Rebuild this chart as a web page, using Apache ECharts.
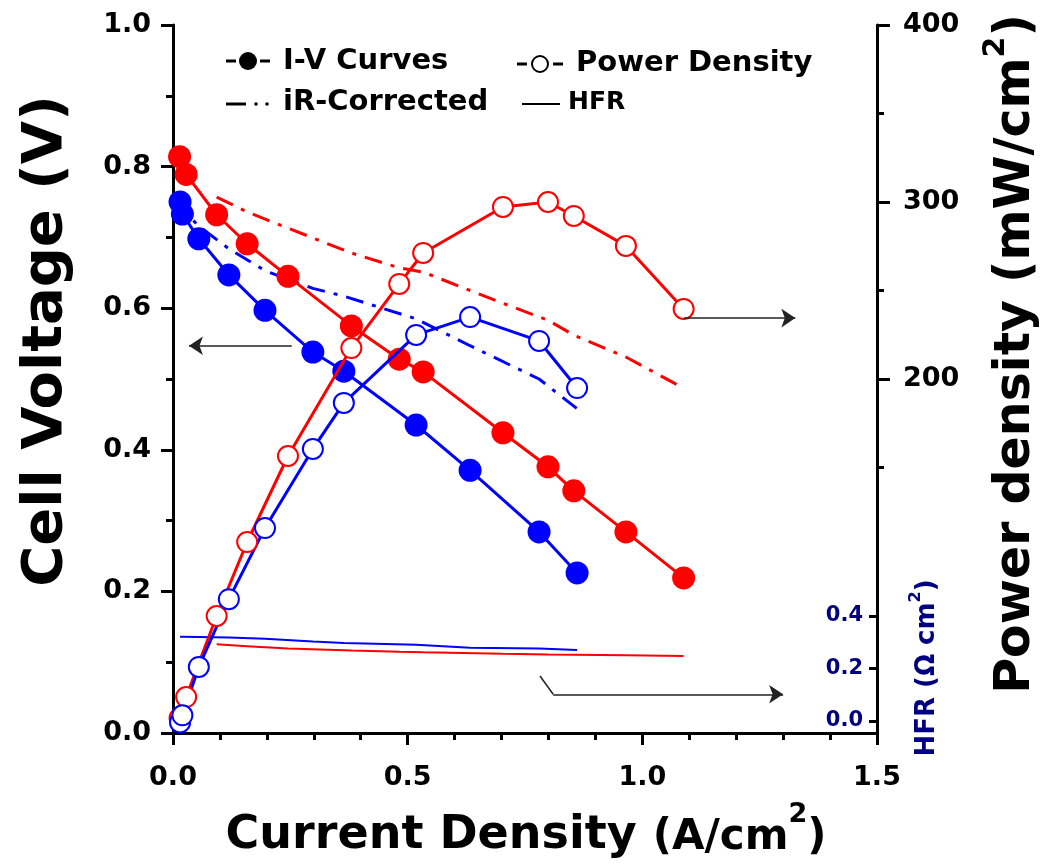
<!DOCTYPE html>
<html>
<head>
<meta charset="utf-8">
<script src="https://cdn.jsdelivr.net/npm/echarts@6/dist/echarts.min.js"></script>
<style>
html,body{margin:0;padding:0;background:#fff;}
#chart{width:1042px;height:866px;}
</style>
</head>
<body>
<div id="chart"></div>
<script>
// ---- data ----
const currentRed = [0.014, 0.028, 0.093, 0.158, 0.245, 0.380, 0.482, 0.533, 0.703, 0.799, 0.854, 0.965, 1.088];
const voltageRed = [0.814, 0.789, 0.732, 0.691, 0.645, 0.575, 0.528, 0.510, 0.424, 0.376, 0.342, 0.284, 0.219];
const powerRed   = [8.5, 20.3, 66.1, 107.9, 156.5, 217.5, 253.7, 271.2, 297.2, 300.0, 292.1, 275.2, 239.6];
const currentRedIR = [0.093, 0.158, 0.245, 0.380, 0.482, 0.533, 0.703, 0.799, 0.854, 0.965, 1.088];
const voltageRedIR = [0.757, 0.736, 0.713, 0.678, 0.657, 0.651, 0.607, 0.583, 0.562, 0.531, 0.487];
const hfrRed       = [0.292, 0.285, 0.276, 0.269, 0.264, 0.262, 0.256, 0.253, 0.252, 0.250, 0.248];

const currentBlue = [0.015, 0.020, 0.055, 0.119, 0.196, 0.298, 0.364, 0.518, 0.633, 0.780, 0.861];
const voltageBlue = [0.750, 0.733, 0.698, 0.647, 0.597, 0.538, 0.511, 0.435, 0.371, 0.284, 0.226];
const powerBlue   = [6, 10, 37.3, 75.6, 115.8, 160.5, 186.5, 224.9, 235.0, 221.5, 194.9];
const voltageBlueIR = [0.755, 0.739, 0.716, 0.684, 0.653, 0.628, 0.617, 0.585, 0.547, 0.500, 0.458];
const hfrBlue       = [0.321, 0.321, 0.320, 0.318, 0.313, 0.303, 0.297, 0.290, 0.279, 0.276, 0.270];

const powerMajorTicks = [200, 300, 400];
const powerMinorTicks = [150, 250, 350];
const hfrTicks = [0, 0.2, 0.4];

// annotation arrows in data units (current, voltage): [from, to, withHead]
const arrowSegments = [
  [[0.253, 0.547], [0.034, 0.547], true],
  [[1.089, 0.586], [1.326, 0.586], true],
  [[0.782, 0.0805], [0.810, 0.0547], false],
  [[0.810, 0.0547], [1.300, 0.0547], true]
];

const zip = (xs, ys) => xs.map((x, i) => [x, ys[i]]);

const FONT = 'DejaVu Sans';
const RED = '#ff0000', BLUE = '#0000ff', NAVY = '#000080';

const chart = echarts.init(document.getElementById('chart'), null, {renderer: 'canvas'});

const axisLineStyle = {show: true, lineStyle: {color: '#000', width: 3}};
const tickLabel = {color: '#000', fontFamily: FONT, fontWeight: 'bold', fontSize: 27};

const option = {
  animation: false,
  backgroundColor: '#fff',
  grid: {left: 173, top: 25, width: 704, height: 708, containLabel: false},
  xAxis: {
    type: 'value', min: 0, max: 1.5, interval: 0.5,
    axisLine: axisLineStyle,
    axisTick: {show: true, length: 12, lineStyle: {width: 3, color: '#000'}},
    minorTick: {show: true, splitNumber: 5, length: 7, lineStyle: {width: 3, color: '#000'}},
    splitLine: {show: false},
    axisLabel: Object.assign({margin: 31, formatter: v => v.toFixed(1)}, tickLabel)
  },
  yAxis: [
    {
      type: 'value', min: 0, max: 1, interval: 0.2, position: 'left',
      axisLine: axisLineStyle,
      axisTick: {show: true, length: 12, lineStyle: {width: 3, color: '#000'}},
      minorTick: {show: true, splitNumber: 2, length: 7, lineStyle: {width: 3, color: '#000'}},
      splitLine: {show: false},
      axisLabel: Object.assign({margin: 22, formatter: v => v.toFixed(1)}, tickLabel)
    },
    {
      type: 'value', min: 0, max: 400, interval: 100, position: 'right',
      axisLine: axisLineStyle,
      axisTick: {show: true, length: 13, customValues: powerMajorTicks, lineStyle: {width: 3, color: '#000'}},
      splitLine: {show: false},
      axisLabel: Object.assign({margin: 26, customValues: powerMajorTicks}, tickLabel)
    },
    {
      type: 'value', min: -0.0457, max: 2.651, position: 'right',
      axisLine: {show: false},
      axisTick: {show: true, inside: true, length: 8, customValues: hfrTicks, lineStyle: {width: 3, color: '#000'}},
      splitLine: {show: false},
      axisLabel: {inside: true, margin: 14, customValues: hfrTicks, formatter: v => v.toFixed(1),
        color: NAVY, fontFamily: FONT, fontWeight: 'bold', fontSize: 21}
    },
    {
      type: 'value', min: 0, max: 400, interval: 100, position: 'right',
      axisLine: {show: false},
      axisTick: {show: true, length: 7, customValues: powerMinorTicks, lineStyle: {width: 3, color: '#000'}},
      splitLine: {show: false},
      axisLabel: {show: false}
    }
  ],
  series: [
    {
      name: 'HFR red', type: 'line', yAxisIndex: 2, showSymbol: false, symbol: 'none',
      data: zip(currentRedIR, hfrRed), lineStyle: {color: RED, width: 2}, z: 1
    },
    {
      name: 'HFR blue', type: 'line', yAxisIndex: 2, showSymbol: false, symbol: 'none',
      data: zip(currentBlue, hfrBlue), lineStyle: {color: BLUE, width: 2}, z: 1
    },
    {
      name: 'iR red', type: 'line', yAxisIndex: 0, symbol: 'none',
      data: zip(currentRedIR, voltageRedIR), lineStyle: {color: RED, width: 3, type: [18, 9, 4, 9]}, z: 2
    },
    {
      name: 'iR blue', type: 'line', yAxisIndex: 0, symbol: 'none',
      data: zip(currentBlue, voltageBlueIR), lineStyle: {color: BLUE, width: 3, type: [18, 9, 4, 9]}, z: 2
    },
    {
      name: 'IV red', type: 'line', yAxisIndex: 0, symbol: 'circle', symbolSize: 23,
      data: zip(currentRed, voltageRed), itemStyle: {color: RED}, lineStyle: {color: RED, width: 3}, z: 3,
      markLine: {
        silent: true, animation: false,
        label: {show: false},
        lineStyle: {color: '#222', width: 1.5, type: 'solid'},
        symbolSize: 14,
        data: arrowSegments.map(s => [
          {coord: s[0], symbol: 'none'},
          {coord: s[1], symbol: s[2] ? 'arrow' : 'none'}
        ])
      }
    },
    {
      name: 'IV blue', type: 'line', yAxisIndex: 0, symbol: 'circle', symbolSize: 23,
      data: zip(currentBlue, voltageBlue), itemStyle: {color: BLUE}, lineStyle: {color: BLUE, width: 3}, z: 3
    },
    {
      name: 'Power red', type: 'line', yAxisIndex: 1, symbol: 'emptyCircle', symbolSize: 20,
      data: zip(currentRed, powerRed), itemStyle: {color: RED, borderWidth: 3}, lineStyle: {color: RED, width: 3}, z: 4
    },
    {
      name: 'Power blue', type: 'line', yAxisIndex: 1, symbol: 'emptyCircle', symbolSize: 20,
      data: zip(currentBlue, powerBlue), itemStyle: {color: BLUE, borderWidth: 3}, lineStyle: {color: BLUE, width: 3}, z: 4
    }
  ],
  graphic: [
    // axis titles
    {type: 'text', x: 46, y: 341, rotation: Math.PI / 2,
      style: {text: 'Cell Voltage (V)', font: 'bold 56px "DejaVu Sans"', fill: '#000', align: 'center', verticalAlign: 'middle'}},
    {type: 'text', x: 1011, y: 354, rotation: Math.PI / 2,
      style: {text: '{a|Power density (mW/cm}{s|2}{a|)}', align: 'center', verticalAlign: 'middle',
        rich: {
          a: {font: 'bold 49px "DejaVu Sans"', fill: '#000', lineHeight: 60, verticalAlign: 'bottom'},
          s: {font: 'bold 30px "DejaVu Sans"', fill: '#000', lineHeight: 60, verticalAlign: 'top'}
        }}},
    {type: 'text', x: 526, y: 830,
      style: {text: '{a|Current Density }{b|(A/cm}{s|2}{b|)}', align: 'center', verticalAlign: 'middle',
        rich: {
          a: {font: 'bold 46px "DejaVu Sans"', fill: '#000', lineHeight: 58, verticalAlign: 'bottom'},
          b: {font: 'bold 42px "DejaVu Sans"', fill: '#000', lineHeight: 58, verticalAlign: 'bottom'},
          s: {font: 'bold 27px "DejaVu Sans"', fill: '#000', lineHeight: 58, verticalAlign: 'top'}
        }}},
    {type: 'text', x: 924, y: 668, rotation: Math.PI / 2,
      style: {text: '{a|HFR (Ω cm}{s|2}{a|)}', align: 'center', verticalAlign: 'middle',
        rich: {
          a: {font: 'bold 26px "DejaVu Sans"', fill: NAVY, lineHeight: 32, verticalAlign: 'bottom'},
          s: {font: 'bold 16px "DejaVu Sans"', fill: NAVY, lineHeight: 32, verticalAlign: 'top'}
        }}},
    // legend row 1
    {type: 'line', shape: {x1: 226, y1: 61, x2: 236, y2: 61}, style: {stroke: '#000', lineWidth: 3}},
    {type: 'circle', shape: {cx: 248, cy: 61, r: 9}, style: {fill: '#000'}},
    {type: 'line', shape: {x1: 260, y1: 61, x2: 270, y2: 61}, style: {stroke: '#000', lineWidth: 3}},
    {type: 'text', x: 283, y: 61, style: {text: 'I-V Curves', font: 'bold 29px "DejaVu Sans"', fill: '#000', verticalAlign: 'middle'}},
    {type: 'line', shape: {x1: 517, y1: 64, x2: 527, y2: 64}, style: {stroke: '#000', lineWidth: 3}},
    {type: 'circle', shape: {cx: 540, cy: 64, r: 8}, style: {fill: '#fff', stroke: '#000', lineWidth: 2}},
    {type: 'line', shape: {x1: 553, y1: 64, x2: 563, y2: 64}, style: {stroke: '#000', lineWidth: 3}},
    {type: 'text', x: 576, y: 63, style: {text: 'Power Density', font: 'bold 29px "DejaVu Sans"', fill: '#000', verticalAlign: 'middle'}},
    // legend row 2
    {type: 'line', shape: {x1: 226, y1: 104, x2: 246, y2: 104}, style: {stroke: '#000', lineWidth: 3}},
    {type: 'circle', shape: {cx: 256, cy: 104, r: 1.8}, style: {fill: '#000'}},
    {type: 'circle', shape: {cx: 267, cy: 104, r: 1.8}, style: {fill: '#000'}},
    {type: 'text', x: 283, y: 102, style: {text: 'iR-Corrected', font: 'bold 29px "DejaVu Sans"', fill: '#000', verticalAlign: 'middle'}},
    {type: 'line', shape: {x1: 522, y1: 104, x2: 560, y2: 104}, style: {stroke: '#000', lineWidth: 2}},
    {type: 'text', x: 568, y: 102, style: {text: 'HFR', font: 'bold 25px "DejaVu Sans"', fill: '#000', verticalAlign: 'middle'}}
  ]
};
chart.setOption(option);
</script>
</body>
</html>
